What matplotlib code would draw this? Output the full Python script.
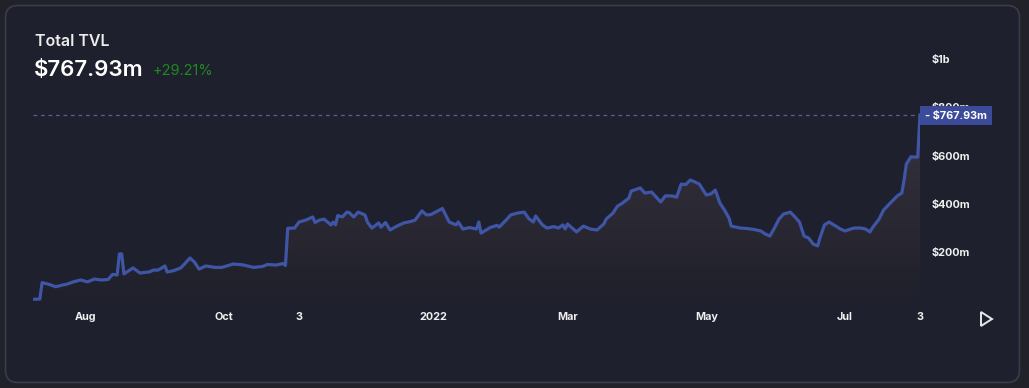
import numpy as np
import matplotlib
matplotlib.use("Agg")
import matplotlib.pyplot as plt
from matplotlib.patches import FancyBboxPatch, Polygon

plt.rcParams['font.family'] = ['Inter', 'DejaVu Sans']

start = np.datetime64('2021-07-09')
# days since start, TVL in millions of USD
days = [0, 3, 4, 7, 10, 13, 15, 18, 21, 24, 27, 30, 33, 35, 37, 38, 39, 40, 44, 47,
        51, 53, 55, 58, 59, 62, 65, 67, 69, 71, 73, 76, 80, 83, 88, 92, 97, 101, 103, 107,
        110, 111, 112, 115, 117, 120, 123, 124, 126, 128, 131, 132, 133, 134, 136, 138, 139, 141, 143, 146,
        147, 149, 152, 153, 155, 157, 160, 163, 166, 168, 171, 173, 175, 180, 183, 186, 187, 189, 192, 195,
        196, 197, 201, 204, 205, 208, 210, 213, 216, 218, 220, 221, 224, 226, 229, 231, 233, 234, 235, 238,
        239, 242, 245, 248, 251, 252, 255, 257, 259, 262, 263, 267, 269, 272, 276, 278, 281, 283, 285, 287,
        289, 291, 293, 296, 298, 300, 302, 304, 306, 307, 311, 314, 317, 320, 322, 324, 326, 328, 330, 333,
        335, 337, 339, 341, 343, 345, 346, 348, 350, 353, 355, 357, 359, 361, 364, 366, 368, 369, 372, 374,
        377, 380, 382, 383, 384, 386, 387, 389, 390]
tvl = [5, 6, 74, 67, 57, 64, 68, 78, 85, 77, 89, 85, 87, 108, 106, 193, 193, 110, 135, 114,
       118, 126, 126, 143, 118, 124, 135, 155, 176, 159, 130, 143, 137, 137, 151, 148, 137, 141, 149, 147,
       153, 145, 299, 300, 325, 333, 346, 323, 333, 337, 313, 325, 313, 352, 346, 366, 364, 346, 366, 354,
       325, 300, 321, 304, 323, 292, 308, 321, 327, 333, 371, 354, 356, 381, 325, 313, 325, 296, 302, 296,
       325, 279, 302, 311, 304, 333, 354, 362, 366, 339, 325, 350, 313, 300, 306, 300, 313, 296, 317, 292,
       284, 308, 296, 292, 317, 337, 362, 391, 402, 424, 453, 466, 445, 449, 408, 433, 433, 428, 482, 480,
       499, 491, 482, 437, 441, 457, 404, 375, 342, 308, 300, 298, 294, 288, 275, 267, 300, 337, 358, 366,
       346, 325, 267, 259, 234, 226, 259, 313, 325, 308, 296, 288, 294, 300, 300, 296, 284, 300, 337, 375,
       404, 433, 445, 499, 565, 595, 594, 594, 768]
tick_dates = ['2021-08-01', '2021-10-01', '2021-11-03', '2022-01-01', '2022-03-01',
              '2022-05-01', '2022-07-01', '2022-08-03']
tick_labels = ['Aug', 'Oct', '3', '2022', 'Mar', 'May', 'Jul', '3']
ytick_vals = [200, 400, 600, 800, 1000]
ytick_labels = ['$200m', '$400m', '$600m', '$800m', '$1b']

W, H = 1029, 388
fig = plt.figure(figsize=(W / 100, H / 100), dpi=100, facecolor='#202129')

# card
card = FancyBboxPatch((5.5 / W, 5.5 / H), 1014 / W, 377 / H,
                      boxstyle="round,pad=0,rounding_size=0.012",
                      transform=fig.transFigure, facecolor='#1e202d',
                      edgecolor='#3a3c49', linewidth=1.2, mutation_aspect=W / H,
                      zorder=-10)
fig.patches.append(card)

ax = fig.add_axes([33 / W, (H - 300.5) / H, 887 / W, 241.5 / H])
ax.set_facecolor('none')
x = np.array(days)
y = np.array(tvl)
ax.set_xlim(0, 390)
ax.set_ylim(0, 1000)

# gradient fill under the curve
fill = ax.fill_between(x, y, 0, color='none', lw=0)
grad = np.linspace(0, 1, 256).reshape(-1, 1)
img = ax.imshow(grad, extent=[0, 390, 0, 1000], aspect='auto', origin='lower',
                cmap=matplotlib.colors.LinearSegmentedColormap.from_list(
                    'g', ['#1f202b', '#2f2c37', '#3e3a47']), zorder=1)
img.set_clip_path(fill.get_paths()[0], transform=ax.transData)

ax.plot(x, y, color='#3f55a6', lw=2.3, zorder=3, solid_joinstyle='round')
ax.axhline(tvl[-1], color='#5a6190', lw=0.9, ls=(0, (3, 3)), zorder=2)

tick_pos = [(np.datetime64(d) - start).astype(int) for d in tick_dates]
ax.set_xticks(tick_pos)
ax.set_xticklabels(tick_labels)
ax.yaxis.tick_right()
ax.set_yticks(ytick_vals)
ax.set_yticklabels(ytick_labels)
ax.tick_params(axis='x', length=0, pad=8, labelsize=7.8, labelcolor='#f0f0f0')
ax.tick_params(axis='y', length=0, pad=8, labelsize=7.8, labelcolor='#f0f0f0')
for lab in ax.get_xticklabels() + ax.get_yticklabels():
    lab.set_fontweight('bold')
for s in ax.spines.values():
    s.set_visible(False)

# current value label (covers the $800m tick label, as in the original)
fig.text(925 / W, 1 - 115.5 / H, '- $767.93m', color='white', fontsize=7.8,
         fontweight='bold', va='center', ha='left', zorder=10,
         bbox=dict(boxstyle='square,pad=0.45', facecolor='#3b4b99', edgecolor='none'))

# header
fig.text(35 / W, 1 - 42 / H, 'Total TVL', color='#ececec', fontsize=11.5,
         fontweight='semibold', va='center')
fig.text(34 / W, 1 - 70 / H, '$767.93m', color='white', fontsize=16,
         fontweight='semibold', va='center')
fig.text(153 / W, 1 - 71 / H, '+29.21%', color='#1f8a1f', fontsize=10.5, va='center')

# play button
tri = Polygon([(981 / W, 1 - 312 / H), (981 / W, 1 - 326 / H), (992 / W, 1 - 319 / H)],
              closed=True, transform=fig.transFigure, facecolor='none',
              edgecolor='#e8e8e8', linewidth=1.4)
fig.patches.append(tri)

fig.savefig('out.png', dpi=100, facecolor=fig.get_facecolor())
